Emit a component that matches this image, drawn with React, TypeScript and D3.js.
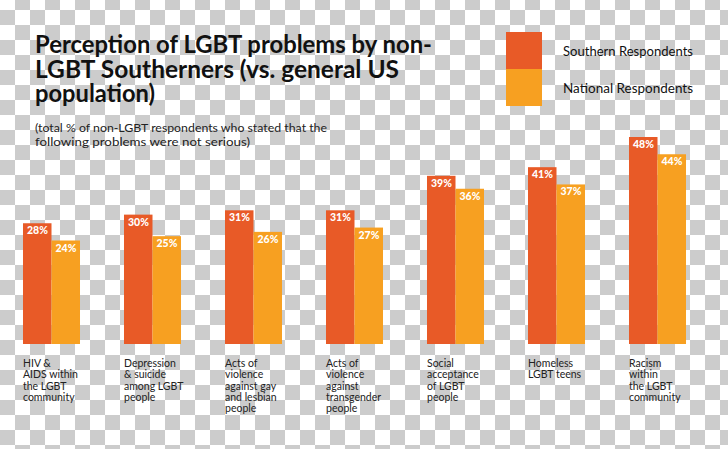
import React from "react";
import * as d3 from "d3";

const W = 728;
const H = 449;

const categories = [
  ["HIV &", "AIDS within", "the LGBT", "community"],
  ["Depression", "& suicide", "among LGBT", "people"],
  ["Acts of", "violence", "against gay", "and lesbian", "people"],
  ["Acts of", "violence", "against", "transgender", "people"],
  ["Social", "acceptance", "of LGBT", "people"],
  ["Homeless", "LGBT teens"],
  ["Racism", "within", "the LGBT", "community"],
];
const southern = [28, 30, 31, 31, 39, 41, 48];
const national = [24, 25, 26, 27, 36, 37, 44];
const seriesNames = ["Southern Respondents", "National Respondents"];
const titleLines = [
  "Perception of LGBT problems by non-",
  "LGBT Southerners (vs. general US",
  "population)",
];
const subtitleLines = [
  "(total % of non-LGBT respondents who stated that the",
  "following problems were not serious)",
];

const COLORS = ["#e85a27", "#f7a021"];
const FONT = "Lato, 'Open Sans', sans-serif";

export default function App() {
  const keys = categories.map((_, i) => String(i));
  const x = d3
    .scaleBand<string>()
    .domain(keys)
    .range([1, 708])
    .paddingInner(0.4356)
    .paddingOuter(0.2178);
  const x1 = d3
    .scaleBand<string>()
    .domain(["s", "n"])
    .range([0, x.bandwidth()]);
  const y = d3.scaleLinear().domain([0, 48]).range([344, 137]);

  const series = [southern, national];
  const titleWidths = [397, 364, 120];
  const subWidths = [292, 215];

  return (
    <svg
      width={W}
      height={H}
      style={{ position: "absolute", left: 0, top: 0, display: "block" }}
    >
      <defs>
        <pattern
          id="checker"
          patternUnits="userSpaceOnUse"
          x={0}
          y={-5}
          width={30}
          height={30}
        >
          <rect x={0} y={0} width={30} height={30} fill="#ffffff" />
          <rect x={15} y={0} width={15} height={15} fill="#cccccc" />
          <rect x={0} y={15} width={15} height={15} fill="#cccccc" />
        </pattern>
      </defs>
      <rect x={0} y={0} width={W} height={H} fill="url(#checker)" />

      {/* Title */}
      <g fontFamily={FONT} fontWeight={700} fill="#111">
        {titleLines.map((t, i) => (
          <text
            key={i}
            x={35}
            y={53 + i * 24.5}
            fontSize={24}
            textLength={titleWidths[i]}
            lengthAdjust="spacingAndGlyphs"
          >
            {t}
          </text>
        ))}
      </g>
      <g fontFamily={FONT} fill="#222">
        {subtitleLines.map((t, i) => (
          <text
            key={i}
            x={35}
            y={132 + i * 14}
            fontSize={11.5}
            textLength={subWidths[i]}
            lengthAdjust="spacingAndGlyphs"
          >
            {t}
          </text>
        ))}
      </g>

      {/* Legend */}
      {seriesNames.map((name, i) => (
        <g key={name}>
          <rect
            x={506}
            y={32 + i * 37}
            width={36}
            height={37}
            fill={COLORS[i]}
          />
          <text
            x={563}
            y={56 + i * 37}
            fontFamily={FONT}
            fontSize={13}
            fill="#111"
            textLength={130}
            lengthAdjust="spacingAndGlyphs"
          >
            {name}
          </text>
        </g>
      ))}

      {/* Bars */}
      {keys.map((k, ci) => (
        <g key={k} transform={`translate(${x(k)},0)`}>
          {series.map((vals, si) => {
            const bx = x1(si === 0 ? "s" : "n") as number;
            const top = y(vals[ci]);
            return (
              <g key={si}>
                <rect
                  x={bx}
                  y={top}
                  width={x1.bandwidth()}
                  height={y(0) - top}
                  fill={COLORS[si]}
                />
                <text
                  x={bx + 4}
                  y={top + 11}
                  fontFamily={FONT}
                  fontWeight={900}
                  fontSize={10.5}
                  fill="#ffffff"
                >
                  {vals[ci]}%
                </text>
              </g>
            );
          })}
          <text fontFamily={FONT} fontSize={10.5} fill="#222">
            {categories[ci].map((line, li) => (
              <tspan key={li} x={0} y={367 + li * 11.3}>
                {line}
              </tspan>
            ))}
          </text>
        </g>
      ))}
    </svg>
  );
}
